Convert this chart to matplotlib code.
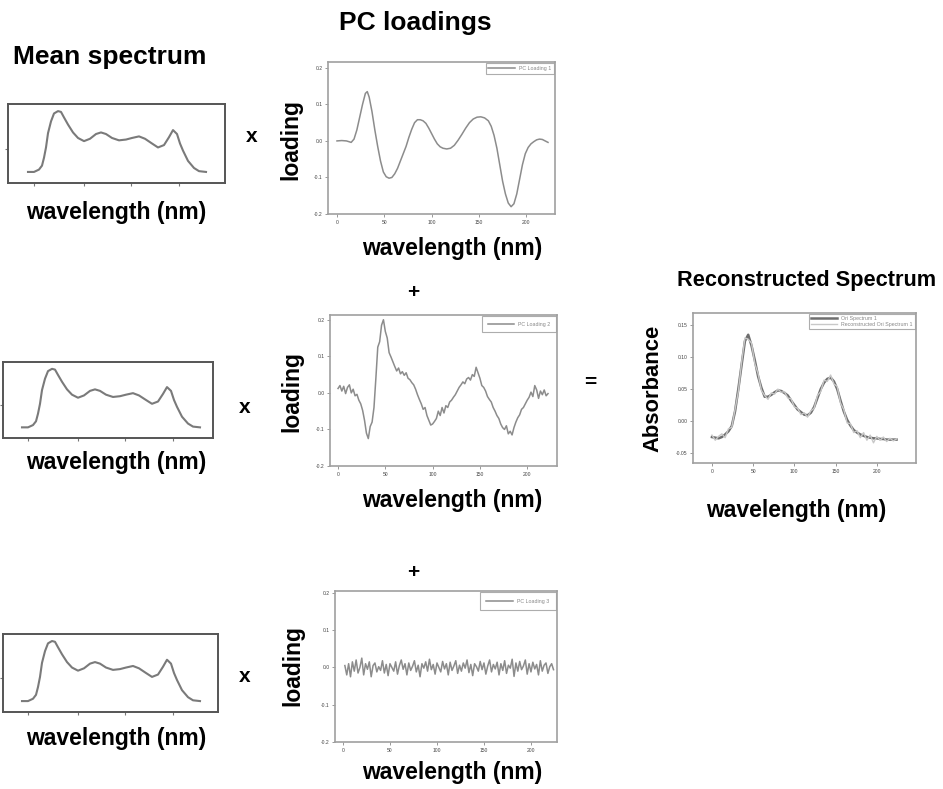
import numpy as np
import matplotlib
matplotlib.use("Agg")
import matplotlib.pyplot as plt

plt.rcParams['font.family'] = ['Liberation Sans', 'DejaVu Sans']

W, H = 943, 789

# ---------------- data ----------------
mean_x = [0, 6, 11, 14, 16, 18, 20, 23, 26, 30, 33, 36, 40, 45, 50, 56, 62, 68, 73, 78,
          84, 91, 98, 104, 111, 117, 124, 130, 136, 141, 145, 149, 152, 155, 160, 166, 171, 178]
mean_y = [0.14, 0.14, 0.17, 0.22, 0.32, 0.45, 0.63, 0.78, 0.88, 0.91, 0.90, 0.83, 0.74, 0.64,
          0.57, 0.53, 0.56, 0.62, 0.64, 0.62, 0.57, 0.54, 0.55, 0.57, 0.59, 0.56, 0.50, 0.45,
          0.48, 0.58, 0.67, 0.62, 0.50, 0.41, 0.28, 0.19, 0.15, 0.14]
mean_ticks = [6, 56, 103, 151]

pc1_x = [0, 5, 10, 15, 18, 21, 24, 27, 30, 32, 34, 37, 40, 43, 46, 49, 52, 55, 58, 61, 64, 67,
         70, 73, 76, 79, 82, 85, 88, 91, 94, 97, 100, 103, 106, 109, 112, 116, 120, 124, 128,
         132, 136, 140, 144, 148, 152, 156, 160, 163, 166, 169, 172, 175, 178, 181, 184, 187,
         190, 193, 196, 199, 202, 205, 208, 211, 214, 217, 220, 223]
pc1_y = [0.0, 0.001, 0.0, -0.004, 0.005, 0.03, 0.065, 0.10, 0.13, 0.135, 0.12, 0.08, 0.03,
         -0.015, -0.055, -0.085, -0.098, -0.102, -0.10, -0.09, -0.075, -0.055, -0.035, -0.015,
         0.01, 0.032, 0.05, 0.058, 0.058, 0.055, 0.048, 0.035, 0.02, 0.005, -0.008, -0.016,
         -0.02, -0.022, -0.02, -0.012, 0.002, 0.018, 0.035, 0.05, 0.06, 0.065, 0.066, 0.063,
         0.055, 0.04, 0.015, -0.02, -0.065, -0.11, -0.145, -0.17, -0.18, -0.172, -0.145,
         -0.105, -0.065, -0.035, -0.018, -0.008, -0.002, 0.003, 0.005, 0.004, 0.0, -0.004]

pc2_x = list(range(0, 224, 2))
pc2_y = [0.012, 0.020, 0.005, 0.018, -0.002, 0.015, 0.022, 0.000, 0.010, -0.008,
         -0.004, -0.020, -0.030, -0.048, -0.075, -0.110, -0.125, -0.092, -0.080, -0.040,
         0.040, 0.125, 0.140, 0.185, 0.200, 0.168, 0.150, 0.110, 0.098, 0.085,
         0.072, 0.060, 0.068, 0.052, 0.058, 0.048, 0.055, 0.040, 0.036, 0.028,
         0.022, 0.010, -0.005, -0.018, -0.030, -0.045, -0.040, -0.062, -0.075, -0.088,
         -0.085, -0.078, -0.070, -0.050, -0.062, -0.040, -0.055, -0.035, -0.040, -0.025,
         -0.020, -0.012, -0.005, 0.005, 0.015, 0.022, 0.030, 0.025, 0.038, 0.042,
         0.035, 0.050, 0.045, 0.070, 0.055, 0.040, 0.020, 0.015, 0.005, -0.010,
         -0.018, -0.025, -0.040, -0.050, -0.062, -0.070, -0.085, -0.095, -0.100, -0.090,
         -0.112, -0.105, -0.115, -0.095, -0.080, -0.068, -0.060, -0.045, -0.040, -0.030,
         -0.020, -0.012, 0.002, -0.010, 0.020, 0.008, -0.015, 0.005, -0.005, 0.008,
         -0.008, -0.002]

pc3_x = list(range(2, 226, 2))
pc3_y = [0.005, -0.020, 0.010, -0.025, 0.015, -0.010, 0.020, -0.015, 0.000, 0.025,
         -0.020, 0.010, -0.005, 0.015, -0.025, 0.005, 0.012, -0.012, 0.002, -0.008,
         0.018, -0.015, 0.008, -0.022, 0.010, 0.000, -0.010, 0.015, -0.018, 0.005,
         0.020, -0.005, 0.010, -0.020, 0.012, -0.008, 0.003, 0.018, -0.012, 0.006,
         -0.025, 0.010, -0.002, 0.015, -0.010, 0.022, -0.006, 0.008, -0.018, 0.012,
         0.000, -0.012, 0.016, -0.004, 0.010, -0.020, 0.014, -0.008, 0.004, 0.018,
         -0.016, 0.006, -0.010, 0.012, -0.002, 0.020, -0.014, 0.008, -0.022, 0.010,
         0.002, -0.010, 0.016, -0.006, 0.012, -0.018, 0.004, 0.020, -0.012, 0.008,
         -0.004, 0.014, -0.020, 0.010, -0.008, 0.018, -0.016, 0.006, -0.002, 0.022,
         -0.024, 0.012, -0.010, 0.016, -0.006, 0.004, 0.020, -0.018, 0.010, -0.012,
         0.014, -0.004, 0.008, -0.020, 0.018, -0.010, 0.006, 0.012, -0.016, 0.002,
         0.010, -0.006]

rec_x = list(range(0, 228, 4))
orig_y = [-0.025, -0.026, -0.027, -0.025, -0.021, -0.016, -0.008, 0.015, 0.050, 0.088,
          0.125, 0.135, 0.118, 0.095, 0.070, 0.052, 0.038, 0.038, 0.041, 0.045,
          0.048, 0.047, 0.044, 0.040, 0.032, 0.025, 0.018, 0.014, 0.010, 0.009,
          0.013, 0.022, 0.036, 0.050, 0.060, 0.066, 0.068, 0.062, 0.050, 0.032,
          0.015, 0.002, -0.007, -0.014, -0.018, -0.021, -0.023, -0.025, -0.026, -0.027,
          -0.027, -0.028, -0.028, -0.029, -0.029, -0.029, -0.029]
recon_y = [-0.022, -0.030, -0.024, -0.020, -0.026, -0.012, -0.010, 0.018, 0.046, 0.092,
           0.130, 0.128, 0.122, 0.090, 0.074, 0.048, 0.040, 0.034, 0.044, 0.042,
           0.050, 0.045, 0.046, 0.036, 0.035, 0.022, 0.020, 0.010, 0.013, 0.006,
           0.016, 0.020, 0.040, 0.046, 0.064, 0.062, 0.072, 0.058, 0.054, 0.028,
           0.018, -0.003, -0.004, -0.018, -0.015, -0.026, -0.018, -0.030, -0.022, -0.034,
           -0.024, -0.030, -0.025, -0.032, -0.027, -0.031, -0.028]

load_yticks = [-0.2, -0.1, 0.0, 0.1, 0.2]
load_yticklabels = ['-0.2', '-0.1', '0.0', '0.1', '0.2']
wl_ticks = [0, 50, 100, 150, 200]
rec_yticks = [-0.05, 0.0, 0.05, 0.10, 0.15]
rec_yticklabels = ['-0.05', '0.00', '0.05', '0.10', '0.15']

# ---------------- figure ----------------
fig = plt.figure(figsize=(W / 100, H / 100), dpi=100)


def add_ax(left, top, right, bottom):
    return fig.add_axes([left / W, 1 - bottom / H, (right - left) / W, (bottom - top) / H])


def ftext(x, y, s, size, **kw):
    fig.text(x / W, 1 - y / H, s, fontsize=size, ha='center', va='center',
             fontweight='bold', color='black', **kw)


def mean_panel(box, xl):
    ax = add_ax(*box)
    ax.plot(mean_x, mean_y, color='#7a7a7a', lw=1.5)
    ax.set_xlim(*xl)
    ax.set_ylim(0, 1)
    ax.set_xticks(mean_ticks)
    ax.set_yticks([0.43])
    ax.set_xticklabels([])
    ax.set_yticklabels([])
    ax.tick_params(direction='out', length=2, width=0.8, color='#777777')
    for s in ax.spines.values():
        s.set_color('#555555')
        s.set_linewidth(1.4)
    return ax


def style_legend(leg):
    leg.get_frame().set_edgecolor('#999999')
    leg.get_frame().set_linewidth(0.8)
    for t in leg.get_texts():
        t.set_color('#888888')


def load_panel(box, xl, yl, x, y, lab, bpad):
    ax = add_ax(*box)
    ax.plot(x, y, color='#8c8c8c', lw=1.1, label=lab)
    ax.set_xlim(*xl)
    ax.set_ylim(*yl)
    ax.set_xticks(wl_ticks)
    ax.set_yticks(load_yticks)
    ax.set_yticklabels(load_yticklabels)
    ax.tick_params(direction='out', length=2, width=0.6, color='#888888',
                   labelsize=3.6, labelcolor='#444444', pad=2)
    for s in ax.spines.values():
        s.set_color('#a0a0a0')
        s.set_linewidth(1.2)
    leg = ax.legend(loc='upper right', fontsize=3.8, frameon=True, fancybox=False,
                    handlelength=5, borderpad=bpad, borderaxespad=0.25)
    style_legend(leg)
    return ax


# mean spectrum panels
mean_panel((8, 104, 225, 183), (-20, 197))
mean_panel((3, 362, 213, 438), (-19, 191))
mean_panel((3, 634, 218, 712), (-19, 196))

# loading panels
load_panel((328, 62, 555, 214), (-9.5, 230.4), (-0.2, 0.216), pc1_x, pc1_y, 'PC Loading 1', 0.5)
load_panel((330, 315, 557, 466), (-8.5, 231.5), (-0.2, 0.213), pc2_x, pc2_y, 'PC Loading 2', 1.0)
load_panel((335, 591, 557, 742), (-8.5, 227.7), (-0.2, 0.205), pc3_x, pc3_y, 'PC Loading 3', 1.2)

# reconstructed panel
axr = add_ax(693, 313, 916, 463)
axr.plot(rec_x, orig_y, color='#6e6e6e', lw=1.8, label='Ori Spectrum 1')
axr.plot(rec_x, recon_y, color='#c8c8c8', lw=1.0, label='Reconstructed Ori Spectrum 1')
axr.set_xlim(-23, 247.6)
axr.set_ylim(-0.0656, 0.169)
axr.set_xticks(wl_ticks)
axr.set_yticks(rec_yticks)
axr.set_yticklabels(rec_yticklabels)
axr.tick_params(direction='out', length=2, width=0.6, color='#888888',
                labelsize=3.6, labelcolor='#444444', pad=2)
for s in axr.spines.values():
    s.set_color('#a0a0a0')
    s.set_linewidth(1.2)
leg = axr.legend(loc='upper right', fontsize=3.8, frameon=True, fancybox=False,
                 handlelength=5, borderpad=0.4, borderaxespad=0.2, labelspacing=0.2)
style_legend(leg)

# titles
ftext(110, 57, 'Mean spectrum', 19)
ftext(415, 23, 'PC loadings', 19)
ftext(807, 280, 'Reconstructed Spectrum', 15.7)

# x labels
for (x, y) in [(116, 212), (116, 463), (116, 738), (452, 248), (452, 500), (452, 773), (796, 510)]:
    ftext(x, y, 'wavelength (nm)', 16.5)

# y labels
for (x, y) in [(291, 140), (292, 391), (293, 666)]:
    ftext(x, y, 'loading', 16.5, rotation=90)
ftext(653, 388, 'Absorbance', 15.8, rotation=90)

# operators
ftext(252, 137, 'x', 15)
ftext(245, 407, 'x', 15)
ftext(245, 677, 'x', 15)
ftext(413, 292, '+', 15)
ftext(413, 572, '+', 15)
ftext(590, 382, '=', 15)

fig.savefig('out.png', dpi=100)
